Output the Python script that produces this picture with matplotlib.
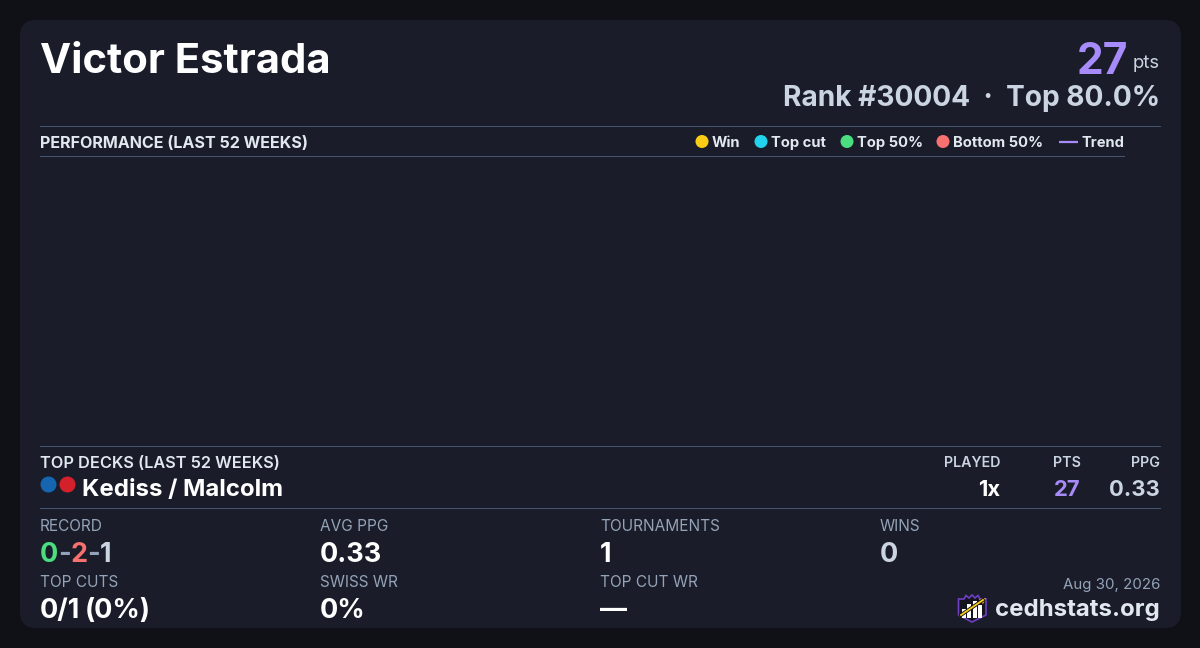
import matplotlib
matplotlib.use('Agg')
import matplotlib.pyplot as plt
from matplotlib.patches import FancyBboxPatch, Circle, Polygon, Rectangle

plt.rcParams['font.family'] = ['Inter', 'DejaVu Sans']

player = 'Victor Estrada'
points = '27'
rank_line = 'Rank #30004  ·  Top 80.0%'
legend_names = ['Win', 'Top cut', 'Top 50%', 'Bottom 50%']
legend_colors = ['#facc15', '#22d3ee', '#4ade80', '#f87171']
legend_x = [702, 761, 847, 943]
deck_name = 'Kediss / Malcolm'
deck_cols = ['PLAYED', 'PTS', 'PPG']
deck_vals = ['1x', '27', '0.33']
deck_right = [1000.5, 1080.5, 1160]
stat_labels = ['RECORD', 'AVG PPG', 'TOURNAMENTS', 'WINS', 'TOP CUTS', 'SWISS WR', 'TOP CUT WR']
stat_vals = [None, '0.33', '1', '0', None, '0%', '—']
stat_x = [40, 320, 600, 880, 40, 320, 600]
stat_y = [531, 531, 531, 531, 587, 587, 587]

BG = '#0f1117'
CARD = '#1a1d29'
LINE = '#46566f'
PURPLE = '#a78bfa'
SOFT = '#e2e8f0'
MUTED = '#94a3b8'
GREY = '#cbd5e1'

fig = plt.figure(figsize=(12, 6.48), dpi=100, facecolor=BG)
ax = fig.add_axes([0, 0, 1, 1])
ax.set_xlim(0, 1200)
ax.set_ylim(648, 0)
ax.axis('off')


def txt(x, y, s, px, color, weight='normal', ha='left'):
    return ax.text(x, y, s, fontsize=px * 0.72, color=color, fontweight=weight, ha=ha, va='baseline')


ax.add_patch(FancyBboxPatch((36, 36), 1129, 576, boxstyle='round,pad=16,rounding_size=16', fc=CARD, ec='none'))

txt(40, 73, player, 41.8, 'white', 'bold')
txt(1128, 74, points, 42.5, PURPLE, 'bold', 'right')
txt(1160, 68, 'pts', 18.5, GREY, 'normal', 'right')
txt(1160, 106, rank_line, 28.1, GREY, 'bold', 'right')

# rules
for y, x1 in [(126, 1161), (156, 1125), (446, 1161), (508, 1161)]:
    ax.add_patch(Rectangle((40, y), x1 - 40, 1, fc=LINE, ec='none'))

txt(40, 148, 'PERFORMANCE (LAST 52 WEEKS)', 16.1, SOFT, 'bold')
for x, name, c in zip(legend_x, legend_names, legend_colors):
    ax.add_patch(Circle((x, 141.5), 6.5, fc=c, ec='none'))
    txt(x + 10, 147, name, 14.8, SOFT, 'bold')
ax.plot([1059, 1078], [141.5, 141.5], color=PURPLE, lw=1.6, solid_capstyle='butt')
txt(1081, 147, 'Trend', 14.7, SOFT, 'bold')

# top decks
txt(40, 467.5, 'TOP DECKS (LAST 52 WEEKS)', 16.3, SOFT, 'semibold')
ax.add_patch(Circle((48.5, 484.5), 8, fc='#1565b0', ec='none'))
ax.add_patch(Circle((67.5, 484.5), 8, fc='#d3202a', ec='none'))
txt(82, 496, deck_name, 24, 'white', 'bold')
for x, c, v, vc in zip(deck_right, deck_cols, deck_vals, ['white', PURPLE, GREY]):
    txt(x, 467, c, 14.2, GREY, 'semibold', 'right')
    txt(x, 496, v, 22, vc, 'bold', 'right')

# stats
for x, y, lab, v in zip(stat_x, stat_y, stat_labels, stat_vals):
    txt(x, y, lab, 15.4, MUTED)
    if v is not None:
        txt(x, y + 31, v, 27, GREY if lab == 'WINS' else 'white', 'bold')

# record, coloured piece by piece
rend = fig.canvas.get_renderer()
xpos = 40
for piece, c in [('0', '#4ade80'), ('-', MUTED), ('2', '#f87171'), ('-', MUTED), ('1', GREY)]:
    t = txt(xpos, 562, piece, 27, c, 'bold')
    xpos = t.get_window_extent(rend).x1 - 0.3

# top cuts value has a narrow gap
txt(40, 618, '0/1', 27, 'white', 'bold')
txt(85, 618, '(0%)', 27, 'white', 'bold')

# footer
txt(1160, 589, 'Aug 30, 2026', 15, MUTED, 'normal', 'right')
txt(1160, 616, 'cedhstats.org', 24, SOFT, 'bold', 'right')

# logo
ax.add_patch(Polygon([(958.5, 599), (964, 599), (966, 595.5), (969, 598), (972, 595), (975, 598),
                      (978, 595.5), (980, 599), (986, 599), (986, 615), (972, 622), (958.5, 615)],
                     closed=True, fc='#15151f', ec='#6d3fc4', lw=1.2))
for x, top in [(962, 609), (967, 604), (973, 601), (978, 605)]:
    ax.add_patch(Rectangle((x, top), 3.8, 618 - top, fc='white', ec='none'))
ax.plot([961, 983], [615, 600], color='#0f1117', lw=2.6)
ax.plot([961, 983], [615, 600], color='#facc15', lw=1.3)
ax.add_patch(Polygon([(986, 598), (979, 599.5), (983, 604)], closed=True, fc='#facc15', ec='none'))

fig.savefig('out.png', dpi=100, facecolor=BG)
